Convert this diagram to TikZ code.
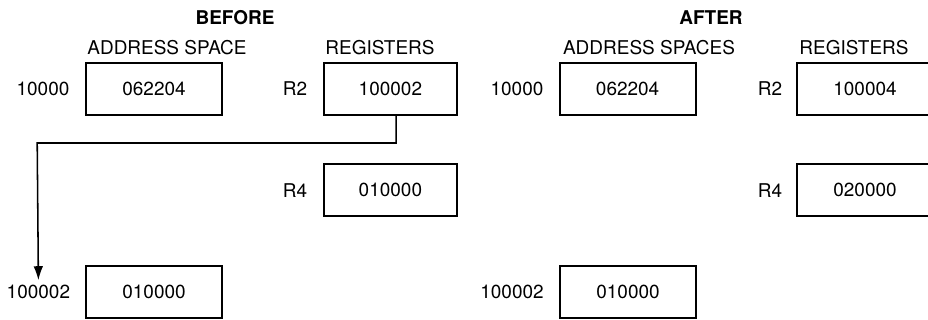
\documentclass[tikz,border=0pt]{standalone}
\usepackage{fontspec}
\setmainfont{TeX Gyre Heros}
\usetikzlibrary{arrows.meta}

\tikzset{
  cell/.style={draw, line width=1.4pt, minimum width=3.4cm, minimum height=1.3cm,
    inner sep=0pt, font=\fontsize{13.5}{15}\selectfont},
  tag/.style={inner sep=0pt, font=\fontsize{13.5}{15}\selectfont},
  head/.style={inner sep=0pt, font=\fontsize{13.5}{15}\selectfont\bfseries}
}

\begin{document}
\begin{tikzpicture}
  \useasboundingbox (0,0) rectangle (23.2,-8);
  % before
  \node[head] (hb) at (5.875,-0.45) {BEFORE};
  \node[tag] (hbas) at (4.175,-1.2) {ADDRESS SPACE};
  \node[tag] (hbrg) at (9.5,-1.2) {REGISTERS};
  \node[cell] (ba1) at (3.85,-2.225) {062204};
  \node[tag] (bl1) at (1.075,-2.225) {10000};
  \node[cell, minimum width=3.33cm] (br2) at (9.76,-2.225) {100002};
  \node[tag] (blr2) at (7.375,-2.225) {R2};
  \node[cell, minimum width=3.33cm] (br4) at (9.76,-4.76) {010000};
  \node[tag] (blr4) at (7.375,-4.76) {R4};
  \node[cell] (ba2) at (3.85,-7.29) {010000};
  \node[tag] (bl2) at (0.96,-7.29) {100002};
  % pointer from R2 to the word it addresses
  \coordinate (bend) at (0.93,-3.575);
  \draw[line width=1.1pt, -{Latex[length=3.5mm,width=2.4mm]}]
    ([xshift=4pt]br2.south) |- (bend) -- ([yshift=3pt]bl2.north);
  % after
  \node[head] (ha) at (17.775,-0.45) {AFTER};
  \node[tag] (haas) at (16.225,-1.2) {ADDRESS SPACES};
  \node[tag] (harg) at (21.35,-1.2) {REGISTERS};
  \node[cell] (aa1) at (15.69,-2.225) {062204};
  \node[tag] (al1) at (12.925,-2.225) {10000};
  \node[cell] (ar2) at (21.625,-2.225) {100004};
  \node[tag] (alr2) at (19.25,-2.225) {R2};
  \node[cell] (ar4) at (21.625,-4.76) {020000};
  \node[tag] (alr4) at (19.25,-4.76) {R4};
  \node[cell] (aa2) at (15.7,-7.29) {010000};
  \node[tag] (al2) at (12.8,-7.29) {100002};
\end{tikzpicture}
\end{document}
